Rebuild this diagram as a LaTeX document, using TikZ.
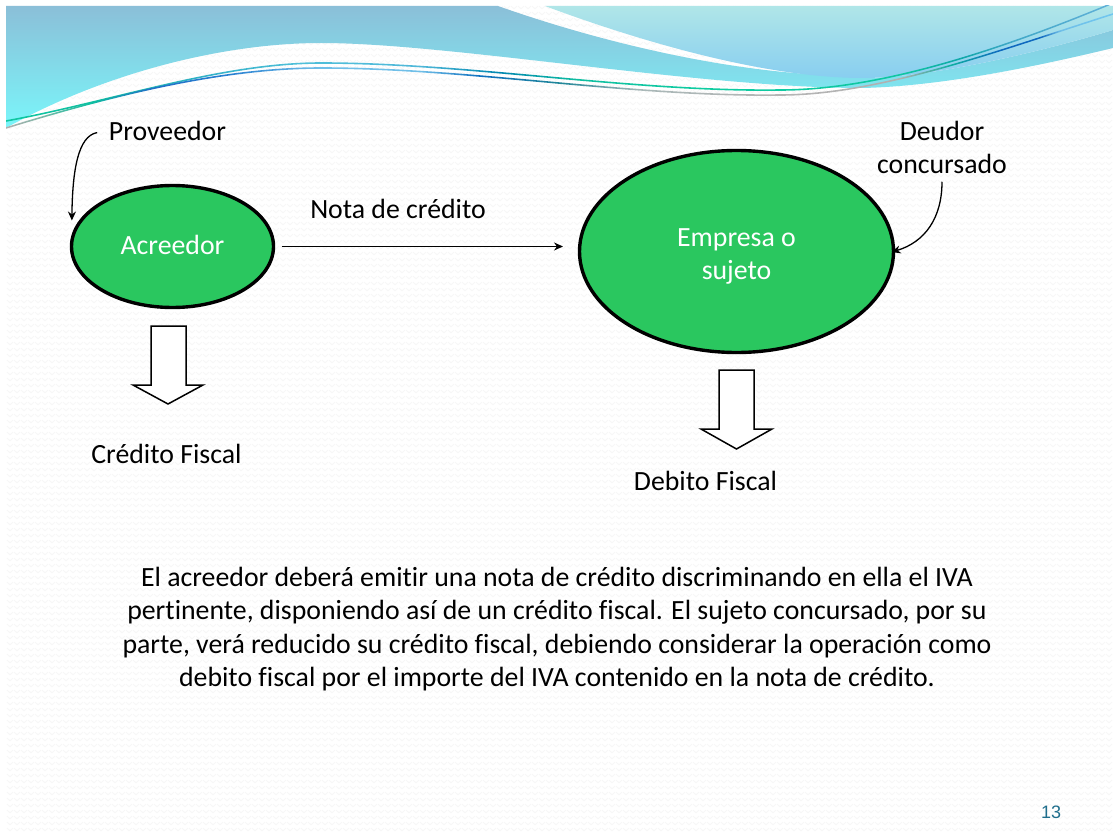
\documentclass[tikz,border=0pt]{standalone}
\usepackage{fontspec}
\setmainfont[Ligatures={NoCommon}]{Carlito}
\newfontfamily\numfont{Liberation Sans}
\usetikzlibrary{shapes.geometric,arrows.meta,patterns}

% Ribbon colours run left to right across the full slide width (25bp to 75bp)
\pgfdeclarehorizontalshading{ribbonupper}{100bp}{
  rgb(0bp)=(0.06,0.78,0.63); rgb(25bp)=(0.06,0.78,0.63); rgb(29.25bp)=(0.06,0.75,0.63);
  rgb(33.76bp)=(0.19,0.69,0.78); rgb(38.28bp)=(0.31,0.75,0.85); rgb(43.7bp)=(0.31,0.72,0.85);
  rgb(47.31bp)=(0,0.53,0.69); rgb(50.93bp)=(0.06,0.75,0.63); rgb(56.35bp)=(0.06,0.8,0.63);
  rgb(65.38bp)=(0.06,0.78,0.63); rgb(68.09bp)=(0.06,0.66,0.66); rgb(70.35bp)=(0.25,0.66,0.78);
  rgb(75bp)=(0.38,0.69,0.85); rgb(100bp)=(0.38,0.69,0.85)}
\pgfdeclarehorizontalshading{ribbonlower}{100bp}{
  rgb(0bp)=(0.69,0.69,0.69); rgb(25bp)=(0.69,0.69,0.69); rgb(26.54bp)=(0.5,0.72,0.66);
  rgb(28.79bp)=(0.06,0.75,0.63); rgb(31.5bp)=(0.13,0.44,0.78); rgb(35.12bp)=(0.16,0.5,0.82);
  rgb(39.18bp)=(0.44,0.75,0.91); rgb(43.7bp)=(0.44,0.75,0.91); rgb(46.41bp)=(0.06,0.44,0.75);
  rgb(50.02bp)=(0.13,0.53,0.6); rgb(53.64bp)=(0.66,0.72,0.72); rgb(59.96bp)=(0.71,0.71,0.71);
  rgb(65.38bp)=(0.69,0.69,0.69); rgb(67.64bp)=(0.06,0.69,0.63); rgb(69.9bp)=(0.06,0.41,0.75);
  rgb(71.71bp)=(0.06,0.41,0.75); rgb(72.61bp)=(0.44,0.75,0.91); rgb(75bp)=(0.44,0.78,0.94);
  rgb(100bp)=(0.44,0.78,0.94)}

% Faint woven texture of the slide background
\pgfdeclarepatternformonly{slideweave}{\pgfqpoint{0pt}{0pt}}{\pgfqpoint{6.5pt}{6pt}}{\pgfqpoint{6.5pt}{6pt}}{
  \pgfsetlinewidth{1pt}
  \pgfpathmoveto{\pgfqpoint{0pt}{4.5pt}}
  \pgfpathlineto{\pgfqpoint{3.25pt}{1.5pt}}
  \pgfpathlineto{\pgfqpoint{6.5pt}{4.5pt}}
  \pgfusepath{stroke}}

\definecolor{bubble}{HTML}{2AC75F}
\definecolor{pagenum}{HTML}{1F6E8C}
\definecolor{weave}{HTML}{F7F7F7}

\tikzset{
  label text/.style={inner sep=0pt,outer sep=0pt,text=black,font=\fontsize{27.8}{33}\selectfont},
  bubble node/.style={ellipse,draw=black,line width=3.4pt,fill=bubble,text=white,inner sep=0pt,outer sep=0pt,
    align=center,font=\fontsize{27.8}{33}\selectfont},
  thin link/.style={line width=1.3pt,-{Stealth[length=9pt,width=8pt]}},
  down arrow/.style={draw=black,line width=1.5pt,fill=white,line join=miter},
}

\begin{document}
\begin{tikzpicture}[x=1pt,y=-1pt]
\useasboundingbox (0,0) rectangle (1113,832);
\fill[white] (0,0) rectangle (1113,832);
\fill[pattern=slideweave,pattern color=weave] (6,6) rectangle (1113,832);

\begin{scope}
\clip (6,6) rectangle (1113,832);
% Broad wave behind, running the full width
\shade[top color={rgb,255:red,139;green,191;blue,216},bottom color={rgb,255:red,122;green,246;blue,250}]
  (6,6) -- (498,6)
  .. controls (600,42) and (720,70) .. (824,75) -- (863,78)
  .. controls (930,78) and (1040,52) .. (1113,30)
  -- (1113,48)
  .. controls (1030,68) and (940,86) .. (863,88)
  .. controls (700,88) and (450,43) .. (321,43)
  .. controls (220,43) and (100,75) .. (6,128)
  -- cycle;
% Pale wave in front, upper right
\shade[top color={rgb,255:red,176;green,230;blue,232},bottom color={rgb,255:red,136;green,206;blue,240}]
  (545,6) .. controls (650,45) and (770,78) .. (863,78)
  .. controls (930,78) and (1040,52) .. (1113,30)
  -- (1113,6) -- cycle;
% Two thin ribbons crossing the waves
\shade[shading=ribbonupper]
  (6,120.2) .. controls (110,101.2) and (220,62.2) .. (321,62.2)
  .. controls (470,62.2) and (630,91.2) .. (780,89.2)
  .. controls (880,89.2) and (1000,49.2) .. (1113,2.2)
  -- (1113,3.8)
  .. controls (1000,50.8) and (880,90.8) .. (780,90.8)
  .. controls (630,92.8) and (470,63.8) .. (321,63.8)
  .. controls (220,63.8) and (110,102.8) .. (6,121.8)
  -- cycle;
\shade[shading=ribbonlower]
  (6,127.2) .. controls (110,95.2) and (220,67.2) .. (321,67.2)
  .. controls (470,67.2) and (630,96.2) .. (780,94.2)
  .. controls (880,94.2) and (1000,49.2) .. (1113,13.2)
  -- (1113,14.8)
  .. controls (1000,50.8) and (880,95.8) .. (780,95.8)
  .. controls (630,97.8) and (470,68.8) .. (321,68.8)
  .. controls (220,68.8) and (110,96.8) .. (6,128.8)
  -- cycle;
\end{scope}

% Parties; the struts set where the text sits inside each ellipse
\node[bubble node,minimum width=202pt,minimum height=122pt] (acreedor) at (172.5,246.5) {Acreedor\rule[-4pt]{0pt}{4pt}};
\node[bubble node,minimum width=314pt,minimum height=202pt] (empresa) at (736.5,251.5) {\rule{0pt}{27pt}Empresa o\\sujeto};

% Labels
\node[label text,anchor=base] (proveedor) at (167.5,140) {Proveedor};
\node[label text,anchor=base] (nota) at (398,218) {Nota de crédito};
\node[label text,align=center] (deudor) at (942,147.5) {Deudor\\concursado};
\node[label text,anchor=base] (credito) at (166.5,463) {Crédito Fiscal};
\node[label text,anchor=base] (debito) at (705.5,490) {Debito Fiscal};

% Links
\draw[thin link,shorten <=12pt,shorten >=26pt] (proveedor.west) .. controls (78,136) and (72.5,170) .. (acreedor.west);
\draw[thin link,shorten <=8pt,shorten >=16.5pt] (acreedor.east) -- (empresa.west |- acreedor.east);
\draw[thin link,shorten <=8pt,shorten >=-2pt] (deudor.south) .. controls (942,218) and (925,242) .. (empresa.east);

% Block arrows
\draw[down arrow] (151,326) -- (186,326) -- (186,385) -- (203,385) -- (168,404) -- (133,385) -- (151,385) -- cycle;
\draw[down arrow] (719,370) -- (754,370) -- (754,429) -- (772,429) -- (736.5,449) -- (701,429) -- (719,429) -- cycle;

% Explanation and slide number
\node[inner sep=0pt,align=center,font=\fontsize{27.8}{33.5}\selectfont] (cuerpo) at (557,629) {El acreedor deberá emitir una nota de crédito discriminando en ella el IVA\\
pertinente, disponiendo así de un crédito fiscal. El sujeto concursado, por su\\
parte, verá reducido su crédito fiscal, debiendo considerar la operación como\\
debito fiscal por el importe del IVA contenido en la nota de crédito.};
\node[inner sep=0pt,text=pagenum,font=\numfont\fontsize{18}{22}\selectfont] (pagina) at (1051,812) {13};
\end{tikzpicture}
\end{document}
